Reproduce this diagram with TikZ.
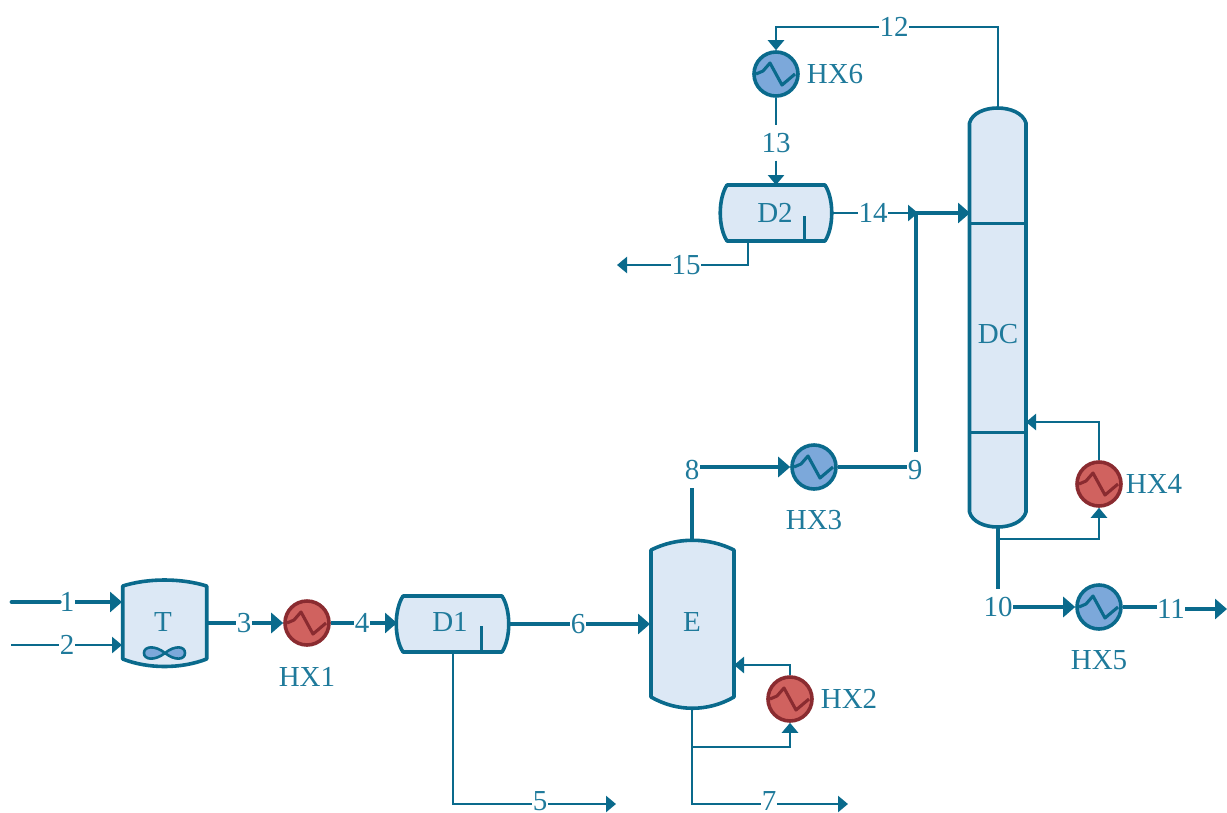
\documentclass[tikz,border=0pt]{standalone}
\usepackage{fontspec}
\setmainfont{Liberation Serif}
\usetikzlibrary{arrows.meta}
\definecolor{pipe}{HTML}{0A6A8C}
\definecolor{txt}{HTML}{1F7A9B}
\definecolor{vfill}{HTML}{DCE8F5}
\definecolor{cool}{HTML}{7CA8DA}
\definecolor{hot}{HTML}{D0625F}
\definecolor{hotd}{HTML}{8A2B30}
\tikzset{
  x=1pt,y=-1pt,
  every node/.style={font=\fontsize{29}{30}\selectfont,text=txt},
  lab/.style={inner sep=3pt,outer sep=0pt},
  slab/.style={inner xsep=0.5pt,inner ysep=8pt,outer sep=0pt},
  thinpipe/.style={draw=pipe,line width=2.9pt},
  thickpipe/.style={draw=pipe,line width=4.9pt},
  thinarr/.style={thinpipe,-{Triangle[length=10pt,width=16pt]}},
  thickarr/.style={thickpipe,-{Triangle[length=12pt,width=20pt]}},
  vessel/.style={draw=pipe,fill=vfill,line width=3.6pt,line join=round},
  tray/.style={draw=pipe,line width=3pt},
  hxbase/.style={circle,minimum size=44pt,inner sep=0pt,line width=3.6pt,path picture={
     \draw[draw=#1,line width=3.1pt,line join=round]
       (path picture bounding box.center) ++(-20,0) -- ++(7,-3) -- ++(7,-8) -- ++(12,22) -- ++(13,-11);}},
  hxhot/.style={hxbase=hotd,draw=hotd,fill=hot},
  hxcold/.style={hxbase=pipe,draw=pipe,fill=cool},
}
\begin{document}
\begin{tikzpicture}
\useasboundingbox (0,0) rectangle (1227,812);
% vessels
\draw[vessel] (122.7,586) .. controls (148,578) and (181,578) .. (206.7,586) -- (206.7,659)
  .. controls (181,669) and (148,669) .. (122.7,659) -- cycle;
\draw[draw=pipe,fill=cool,line width=2.6pt] (165,653) .. controls (155,645) and (144,646) .. (144,653)
  .. controls (144,660) and (155,661) .. (165,653) .. controls (175,645) and (185,646) .. (185,653)
  .. controls (185,660) and (175,661) .. (165,653) -- cycle;
\draw[vessel] (403,596) -- (502,596) .. controls (511,610) and (511,638) .. (502,652) -- (403,652)
  .. controls (394,638) and (394,610) .. (403,596) -- cycle;
\draw[vessel] (727,185) -- (825,185) .. controls (834,199) and (834,227) .. (825,241) -- (727,241)
  .. controls (718,227) and (718,199) .. (727,185) -- cycle;
\draw[vessel] (651,550) .. controls (677,537) and (708,537) .. (734,550) -- (734,697)
  .. controls (708,712) and (677,712) .. (651,697) -- cycle;
\draw[vessel] (969.5,123) .. controls (975,103) and (1020,103) .. (1026,123) -- (1026,512)
  .. controls (1020,532) and (975,532) .. (969.5,512) -- cycle;
\draw[tray] (481,626) -- (481,652);
\draw[tray] (804,216) -- (804,241);
\draw[tray] (969.5,223) -- (1026,223);
\draw[tray] (969.5,432) -- (1026,432);
% vessel labels
\node[lab] (T) at (163,622) {T};
\node[lab] (D1) at (450,622) {D1};
\node[lab] (D2) at (775,213) {D2};
\node[lab] (E) at (692,622) {E};
\node[lab] (DC) at (998,334) {DC};
% vessel ports
\coordinate (in1) at (12,602);
\coordinate (in2) at (11,645);
\coordinate (Tl1) at (122,602);
\coordinate (Tl2) at (122,645);
\coordinate (Tr) at (207,623);
\coordinate (D1l) at (397,623);
\coordinate (D1r) at (509,624);
\coordinate (D1b) at (453,652);
\coordinate (c5) at (453,804);
\coordinate (out5) at (616,804);
\coordinate (El) at (650,624);
\coordinate (Et) at (692,540);
\coordinate (Eb) at (692,708);
\coordinate (Er) at (734,665);
\coordinate (c7) at (692,804);
\coordinate (out7) at (848,804);
\coordinate (j7) at (692,747);
\coordinate (c2a) at (790,747);
\coordinate (c2b) at (790,665);
\coordinate (D2t) at (776,185);
\coordinate (D2r) at (832,213);
\coordinate (D2b) at (748,241);
\coordinate (c15) at (748,265);
\coordinate (out15) at (617,265);
\coordinate (j14) at (918,213);
\coordinate (c9) at (916,213);
\coordinate (DCl) at (970,213);
\coordinate (DCt) at (998,108);
\coordinate (DCb) at (998,527);
\coordinate (DCr) at (1026,422);
\coordinate (c12a) at (998,27);
\coordinate (c12b) at (776,27);
\coordinate (j10) at (998,539);
\coordinate (c4a) at (1099,539);
\coordinate (c4b) at (1099,422);
\coordinate (out11) at (1227,609);
% heat exchangers
\node[hxhot] (HX1) at (307,623) {};
\node[hxhot] (HX2) at (790,699) {};
\node[hxcold] (HX3) at (814,467) {};
\node[hxhot] (HX4) at (1099,484) {};
\node[hxcold] (HX5) at (1099,607) {};
\node[hxcold] (HX6) at (776,74) {};
\node[lab] (lHX1) at (307,677) {HX1};
\node[lab] (lHX2) at (849,699) {HX2};
\node[lab] (lHX3) at (814,520) {HX3};
\node[lab] (lHX4) at (1154,484) {HX4};
\node[lab] (lHX5) at (1099,660) {HX5};
\node[lab] (lHX6) at (835,74) {HX6};
% stream labels
\node[slab] (s1) at (67,602) {1};
\node[slab] (s2) at (67,645) {2};
\node[slab] (s3) at (244,623) {3};
\node[slab] (s4) at (362,623) {4};
\node[slab,inner ysep=0pt] (s5) at (540,801) {5};
\node[slab] (s6) at (578,624) {6};
\node[slab,inner ysep=0pt] (s7) at (769,801) {7};
\node[slab] (s8) at (692,470) {8};
\node[slab] (s9) at (915,470) {9};
\node[slab] (s10) at (998,607) {10};
\node[slab] (s11) at (1171,609) {11};
\node[slab] (s12) at (894,27) {12};
\node[slab] (s13) at (776,143) {13};
\node[slab] (s14) at (873,213) {14};
\node[slab] (s15) at (686,265) {15};
% connectors
\draw[thickpipe,line cap=round] (in1) -- (s1);
\draw[thickarr] (s1) -- (Tl1);
\draw[thinpipe] (in2) -- (s2);
\draw[thinarr] (s2) -- (Tl2);
\draw[thickpipe] (Tr) -- (s3);
\draw[thickarr] (s3) -- (HX1.west);
\draw[thickpipe] (HX1.east) -- (s4);
\draw[thickarr] (s4) -- (D1l);
\draw[thinpipe,line join=miter] (D1b) -- (c5) -- (s5.west |- c5);
\draw[thinarr] (s5.east |- out5) -- (out5);
\draw[thickpipe] (D1r) -- (s6);
\draw[thickarr] (s6) -- (El);
\draw[thinpipe] (Eb) -- (c7) -- (s7.west |- c7);
\draw[thinarr] (s7.east |- out7) -- (out7);
\draw[thinarr] (j7) -- (c2a) -- (HX2.south);
\draw[thinarr] (HX2.north) -- (c2b) -- (Er);
\draw[thickpipe] (Et) -- (s8);
\draw[thickarr] (s8.east |- HX3.west) -- (HX3.west);
\draw[thickpipe] (HX3.east) -- (s9.west |- HX3.east);
\draw[thickpipe] (s9.north -| c9) -- (c9);
\draw[thickarr] (c9) -- (DCl);
\draw[thinpipe] (D2r) -- (s14);
\draw[thinarr] (s14) -- (j14);
\draw[thinpipe] (D2b) -- (c15) -- (s15);
\draw[thinarr] (s15) -- (out15);
\draw[thinpipe] (DCt) -- (c12a) -- (s12);
\draw[thinarr] (s12) -- (c12b) -- (HX6.north);
\draw[thinpipe] (HX6.south) -- (s13);
\draw[thinarr] (s13) -- (D2t);
\draw[thickpipe] (DCb) -- (s10);
\draw[thickarr] (s10) -- (HX5.west);
\draw[thinarr] (j10) -- (c4a) -- (HX4.south);
\draw[thinarr] (HX4.north) -- (c4b) -- (DCr);
\draw[thickpipe] (HX5.east) -- (s11.west |- HX5.east);
\draw[thickarr] (s11) -- (out11);
\end{tikzpicture}
\end{document}
